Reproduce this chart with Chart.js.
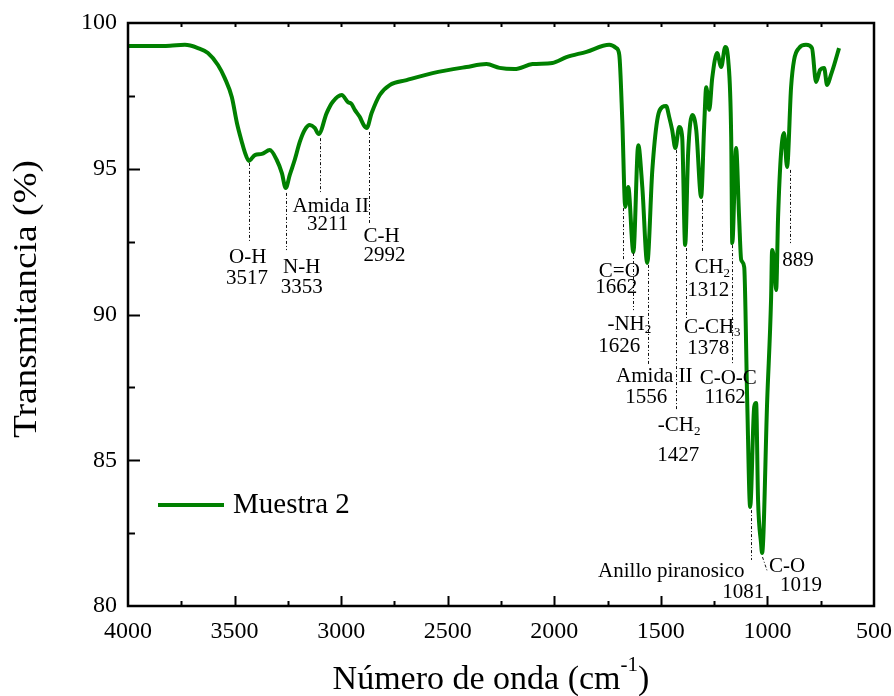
<!DOCTYPE html>
<html>
<head>
<meta charset="utf-8">
<script src="https://cdn.jsdelivr.net/npm/chart.js@4/dist/chart.umd.min.js"></script>
<style>
  html, body { margin: 0; padding: 0; background: #ffffff; }
  #wrap { width: 894px; height: 696px; }
</style>
</head>
<body>
<div id="wrap"><canvas id="c" width="894" height="696"></canvas></div>
<script>
// ---------- DATA ----------
const seriesName = 'Muestra 2';
const wavenumber = [3998, 3897, 3803, 3733, 3672, 3625, 3578, 3546, 3513, 3489,
  3466, 3452, 3433, 3405, 3372, 3335, 3302, 3278, 3260, 3241,
  3218, 3194, 3171, 3147, 3124, 3105, 3068, 3040, 2997, 2969,
  2951, 2936, 2913, 2894, 2880, 2857, 2819, 2772, 2693, 2571,
  2412, 2318, 2257, 2187, 2102, 2009, 1943, 1849, 1742, 1709,
  1695, 1681, 1667, 1653, 1629, 1606, 1587, 1564, 1540, 1517,
  1493, 1475, 1461, 1447, 1432, 1414, 1400, 1386, 1372, 1353,
  1334, 1311, 1297, 1287, 1273, 1259, 1236, 1217, 1198, 1184,
  1170, 1165, 1147, 1133, 1123, 1109, 1095, 1081, 1062, 1053,
  1044, 1030, 1025, 1001, 983, 978, 969, 959, 950, 936,
  922, 908, 889, 875, 852, 819, 791, 772, 753, 734,
  720, 702, 687, 664];
const transmittance = [99.21, 99.21, 99.22, 99.25, 99.14, 98.97, 98.56, 98.11, 97.46, 96.57,
  95.92, 95.57, 95.27, 95.47, 95.51, 95.64, 95.30, 94.85, 94.34, 94.79,
  95.30, 95.92, 96.33, 96.50, 96.40, 96.19, 96.91, 97.29, 97.53, 97.29,
  97.22, 97.02, 96.78, 96.50, 96.40, 96.91, 97.53, 97.87, 98.04, 98.28,
  98.49, 98.59, 98.46, 98.42, 98.59, 98.63, 98.83, 99.01, 99.25, 99.14,
  98.90, 96.67, 93.69, 94.37, 92.14, 95.81, 94.37, 91.77, 94.96, 96.67,
  97.12, 97.15, 96.78, 96.33, 95.71, 96.43, 96.09, 92.38, 95.54, 96.84,
  96.33, 94.03, 96.43, 97.80, 97.02, 98.11, 98.97, 98.49, 99.18, 98.73,
  96.09, 92.45, 95.71, 93.35, 91.87, 91.63, 87.07, 83.40, 86.83, 86.96,
  83.64, 82.16, 81.82, 87.07, 90.50, 92.21, 91.87, 90.84, 93.35, 95.54,
  96.23, 95.06, 97.80, 98.73, 99.14, 99.25, 99.14, 97.98, 98.39, 98.46,
  97.87, 98.22, 98.56, 99.14];

const xTickValues = [4000, 3500, 3000, 2500, 2000, 1500, 1000, 500];
const yTickValues = [80, 85, 90, 95, 100];
const xTitle = 'Número de onda (cm^{-1})';
const yTitle = 'Transmitancia (%)';

// Band assignments (label text) and the band number printed under it
const bandNames   = ['O-H', 'N-H', 'Amida II', 'C-H', 'C=O', '-NH_{2}', 'Amida II', '-CH_{2}', 'C-CH_{3}', 'CH_{2}', 'C-O-C', '', 'Anillo piranosico', 'C-O'];
const bandNumbers = ['3517', '3353', '3211', '2992', '1662', '1626', '1556', '1427', '1378', '1312', '1162', '889', '1081', '1019'];

// ---------- ANNOTATION LAYOUT (data coordinates) ----------
// leader line: [wn1, T1, wn2, T2]
const leaderLines = [
  [3433, 95.20, 3433, 92.49],
  [3260, 94.17, 3260, 92.21],
  [3100, 96.05, 3100, 94.20],
  [2871, 96.26, 2871, 93.14],
  [1676, 93.65, 1676, 91.87],
  [1629, 92.11, 1629, 90.15],
  [1559, 91.70, 1559, 88.27],
  [1428, 95.64, 1428, 86.72],
  [1381, 92.28, 1381, 89.88],
  [1306, 93.93, 1306, 92.11],
  [1165, 92.38, 1165, 88.27],
  [894, 94.96, 894, 92.45],
  [1076, 83.29, 1076, 81.58],
  [1025, 81.68, 1001, 81.17]
];
// text centres: [wn, T] for name line, [wn, T] for number line
const namePos = [
  [3438, 91.97], [3185, 91.63], [3049, 93.72], [2810, 92.69],
  [1695, 91.49], [1648, 89.67], [1531, 87.86], [1414, 86.18],
  [1259, 89.57], [1259, 91.60], [1184, 87.79], null,
  [1451, 81.17], [908, 81.34]
];
const numberPos = [
  [3442, 91.22], [3185, 90.94], [3063, 93.10], [2796, 92.04],
  [1709, 90.94], [1695, 88.89], [1568, 87.17], [1418, 85.15],
  [1278, 88.85], [1278, 90.84], [1198, 87.14], [856, 91.87],
  [1114, 80.48], [842, 80.69]
];

const FONT = '"Liberation Serif", "Times New Roman", Times, serif';

// rich text with _{sub} and ^{sup}
function parseRich(str) {
  const parts = [];
  const re = /([_^])\{([^}]*)\}/g;
  let last = 0, m;
  while ((m = re.exec(str)) !== null) {
    if (m.index > last) parts.push({ t: str.slice(last, m.index), k: 'n' });
    parts.push({ t: m[2], k: m[1] === '_' ? 'sub' : 'sup' });
    last = re.lastIndex;
  }
  if (last < str.length) parts.push({ t: str.slice(last), k: 'n' });
  return parts;
}
function richWidth(ctx, parts, size) {
  let w = 0;
  for (const p of parts) {
    ctx.font = (p.k === 'n' ? size : Math.round(size * 0.62)) + 'px ' + FONT;
    w += ctx.measureText(p.t).width;
  }
  return w;
}
function drawRich(ctx, str, cx, cy, size) {
  const parts = parseRich(str);
  const w = richWidth(ctx, parts, size);
  let x = cx - w / 2;
  ctx.textAlign = 'left';
  ctx.textBaseline = 'middle';
  for (const p of parts) {
    let yy = cy;
    if (p.k === 'n') { ctx.font = size + 'px ' + FONT; }
    else {
      ctx.font = Math.round(size * 0.62) + 'px ' + FONT;
      yy = p.k === 'sub' ? cy + size * 0.28 : cy - size * 0.42;
    }
    ctx.fillText(p.t, x, yy);
    x += ctx.measureText(p.t).width;
  }
}

const decor = {
  id: 'decor',
  afterDraw(chart) {
    const { ctx, scales: { x, y } } = chart;
    const L0 = x.getPixelForValue(4000), R0 = x.getPixelForValue(500);
    const T0 = y.getPixelForValue(100), B0 = y.getPixelForValue(80);
    ctx.save();
    ctx.fillStyle = '#000';
    ctx.strokeStyle = '#000';

    // inner ticks
    ctx.lineWidth = 2;
    for (let v = 750; v < 4000; v += 250) {
      const px = Math.round(x.getPixelForValue(v)) + 0.5;
      const major = v % 500 === 0;
      ctx.beginPath();
      ctx.moveTo(px, B0); ctx.lineTo(px, B0 - (major ? 10 : 5));
      ctx.moveTo(px, T0); ctx.lineTo(px, T0 + 4);
      ctx.stroke();
    }
    for (let v = 82.5; v < 100; v += 2.5) {
      const py = Math.round(y.getPixelForValue(v)) + 0.5;
      const major = v % 5 === 0;
      ctx.beginPath();
      ctx.moveTo(L0, py); ctx.lineTo(L0 + (major ? 12 : 7), py);
      ctx.stroke();
    }
    // frame
    ctx.lineWidth = 2.5;
    ctx.strokeRect(L0, T0, R0 - L0, B0 - T0);

    // leader lines
    ctx.lineWidth = 1;
    ctx.setLineDash([3, 2, 1, 2]);
    ctx.strokeStyle = '#111';
    for (const L of leaderLines) {
      ctx.beginPath();
      ctx.moveTo(Math.round(x.getPixelForValue(L[0])) + 0.5, y.getPixelForValue(L[1]));
      ctx.lineTo(Math.round(x.getPixelForValue(L[2])) + 0.5, y.getPixelForValue(L[3]));
      ctx.stroke();
    }
    ctx.setLineDash([]);

    // band labels
    for (let i = 0; i < bandNumbers.length; i++) {
      if (namePos[i] && bandNames[i]) {
        drawRich(ctx, bandNames[i], x.getPixelForValue(namePos[i][0]), y.getPixelForValue(namePos[i][1]), 21);
      }
      drawRich(ctx, bandNumbers[i], x.getPixelForValue(numberPos[i][0]), y.getPixelForValue(numberPos[i][1]), 21);
    }

    // legend
    const ly = T0 + 482;
    ctx.strokeStyle = chart.data.datasets[0].borderColor;
    ctx.lineWidth = 4;
    ctx.beginPath();
    ctx.moveTo(L0 + 30, ly); ctx.lineTo(L0 + 96, ly);
    ctx.stroke();
    ctx.font = '29px ' + FONT;
    ctx.textAlign = 'left';
    ctx.textBaseline = 'middle';
    ctx.fillText(chart.data.datasets[0].label, L0 + 105, ly);

    // axis titles
    drawRich(ctx, xTitle, (L0 + R0) / 2 - 10, 680, 34);
    ctx.save();
    ctx.translate(27, 299);
    ctx.rotate(-Math.PI / 2);
    ctx.scale(1.1, 1);
    drawRich(ctx, yTitle, 0, 0, 34);
    ctx.restore();

    ctx.restore();
  }
};

new Chart(document.getElementById('c'), {
  type: 'line',
  data: {
    datasets: [{
      label: seriesName,
      data: wavenumber.map((w, i) => ({ x: w, y: transmittance[i] })),
      borderColor: '#008000',
      borderWidth: 4,
      pointRadius: 0,
      fill: false,
      cubicInterpolationMode: 'monotone'
    }]
  },
  options: {
    responsive: false,
    animation: false,
    devicePixelRatio: 1,
    layout: { padding: { left: 0, top: 23, right: 20, bottom: 0 } },
    plugins: { legend: { display: false }, tooltip: { enabled: false } },
    scales: {
      x: {
        type: 'linear', reverse: true, min: 500, max: 4000,
        afterFit(s) { s.height = 90; s.paddingLeft = 0; s.paddingRight = 0; },
        afterBuildTicks(s) { s.ticks = xTickValues.map(v => ({ value: v })); },
        ticks: { callback: v => String(v), font: { family: FONT, size: 24 }, color: '#000', padding: 11, maxRotation: 0, autoSkip: false },
        grid: { display: false, drawTicks: false },
        border: { display: false }
      },
      y: {
        min: 80, max: 100,
        afterFit(s) { s.width = 128; s.paddingTop = 0; s.paddingBottom = 0; },
        afterBuildTicks(s) { s.ticks = yTickValues.map(v => ({ value: v })); },
        ticks: { callback: v => String(v), font: { family: FONT, size: 24 }, color: '#000', padding: 11, autoSkip: false },
        grid: { display: false, drawTicks: false },
        border: { display: false }
      }
    }
  },
  plugins: [decor]
});
</script>
</body>
</html>
